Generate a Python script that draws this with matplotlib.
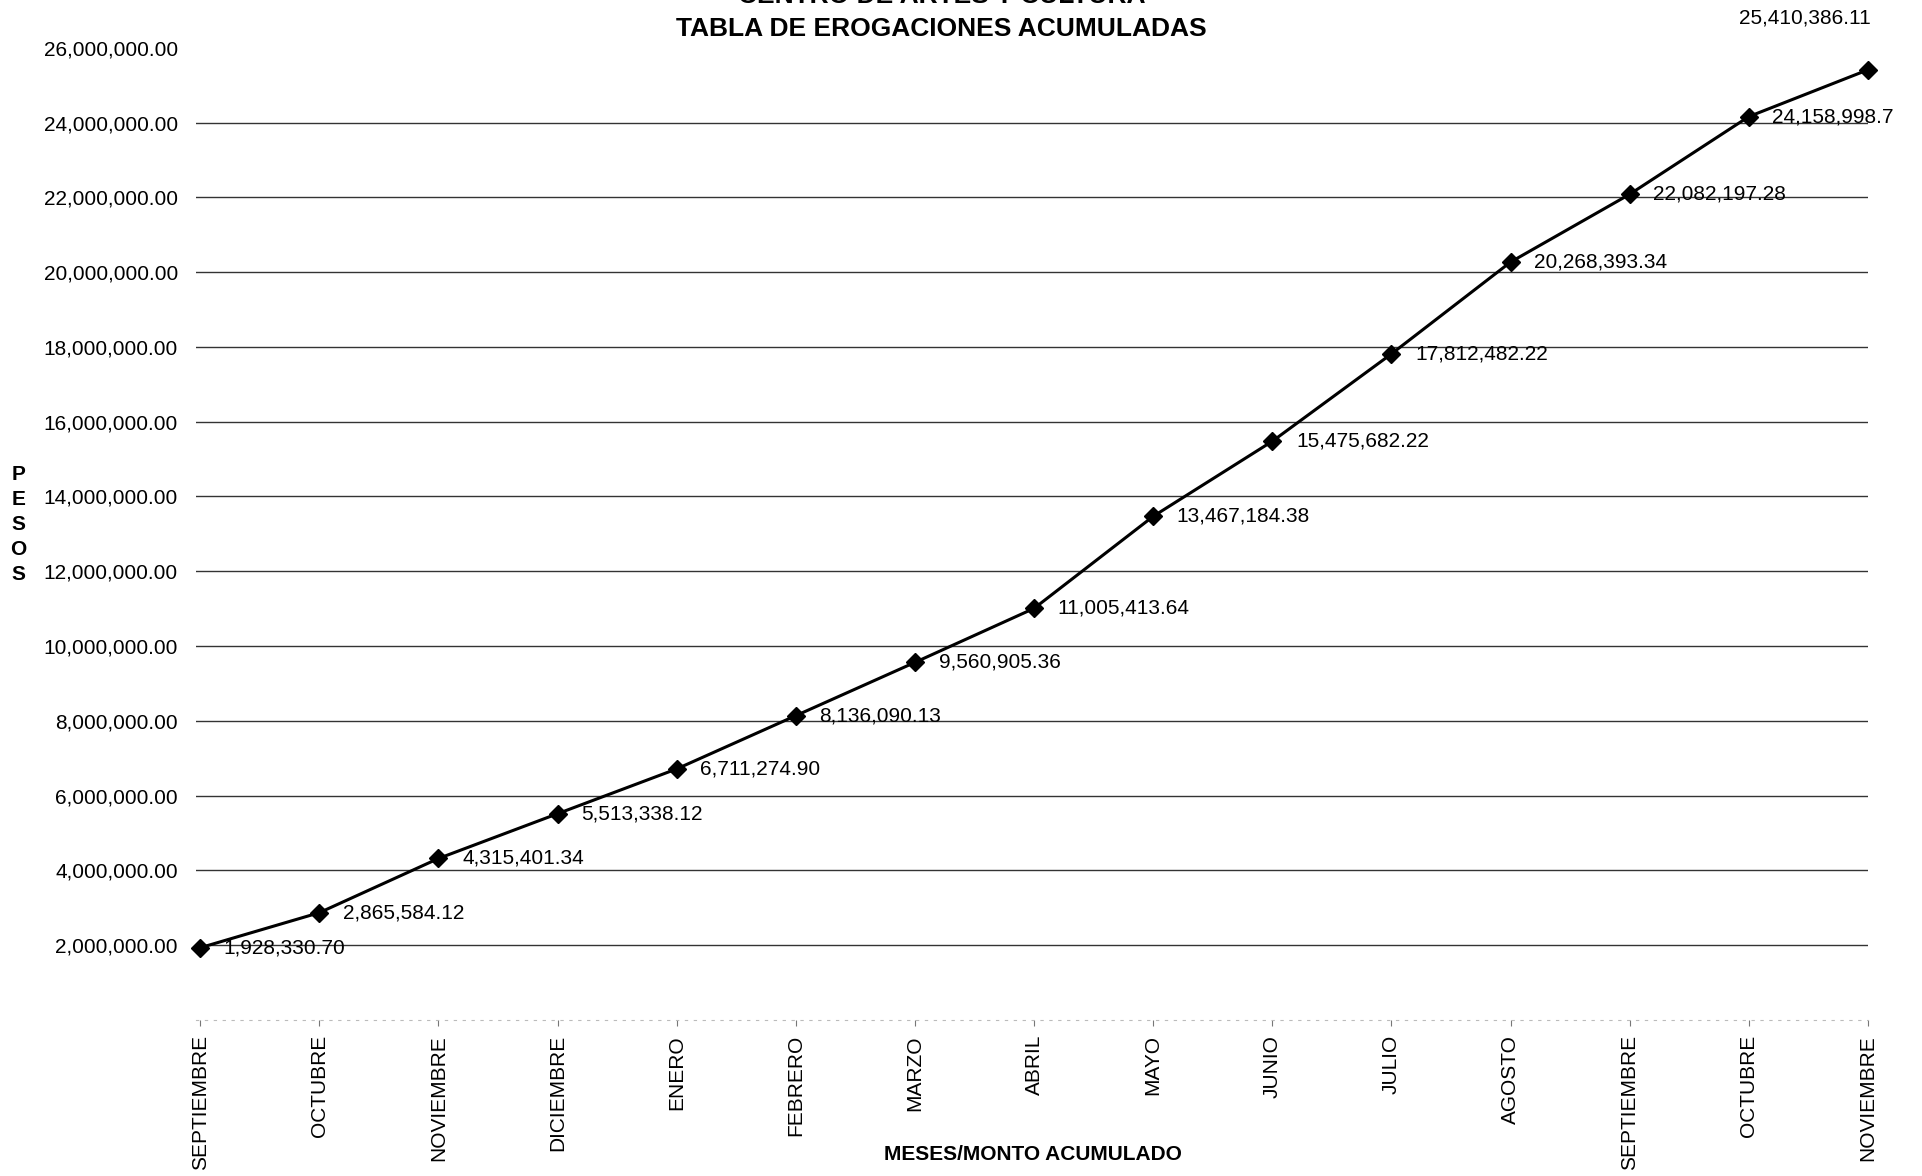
import numpy as np
import matplotlib.pyplot as plt

plt.rcParams['font.family'] = ['Liberation Sans', 'DejaVu Sans']

meses = ["SEPTIEMBRE", "OCTUBRE", "NOVIEMBRE", "DICIEMBRE", "ENERO", "FEBRERO",
         "MARZO", "ABRIL", "MAYO", "JUNIO", "JULIO", "AGOSTO", "SEPTIEMBRE",
         "OCTUBRE", "NOVIEMBRE"]
acumulado = [1928330.70, 2865584.12, 4315401.34, 5513338.12, 6711274.90,
             8136090.13, 9560905.36, 11005413.64, 13467184.38, 15475682.22,
             17812482.22, 20268393.34, 22082197.28, 24158998.73, 25410386.11]
etiquetas = ["1,928,330.70", "2,865,584.12", "4,315,401.34", "5,513,338.12",
             "6,711,274.90", "8,136,090.13", "9,560,905.36", "11,005,413.64",
             "13,467,184.38", "15,475,682.22", "17,812,482.22", "20,268,393.34",
             "22,082,197.28", "24,158,998.7", "25,410,386.11"]
yticks = [2000000, 4000000, 6000000, 8000000, 10000000, 12000000, 14000000,
          16000000, 18000000, 20000000, 22000000, 24000000, 26000000]

tickFont = {'size': 15}
labelFont = {'size': 15, 'weight': 'bold'}

fig = plt.figure(figsize=(19.22, 11.76), dpi=100)
ax = fig.add_axes([0.102, 0.1328, 0.8699, 0.8266])

x = np.arange(len(meses))
ax.plot(x, acumulado, color='black', lw=2.2, marker='D', ms=9, clip_on=False, zorder=3)

for i, (v, t) in enumerate(zip(acumulado, etiquetas)):
    if i == len(acumulado) - 1:
        ax.annotate(t, (i, v), xytext=(2, 37), textcoords='offset points',
                    ha='right', va='center', annotation_clip=False, **tickFont)
    else:
        ax.annotate(t, (i, v), xytext=(17, 0), textcoords='offset points',
                    ha='left', va='center', annotation_clip=False, **tickFont)

ax.set_xlim(-0.035, 14)
ax.set_ylim(0, 26000000)
ax.set_yticks(yticks)
ax.set_yticklabels(["{:,.2f}".format(v) for v in yticks], **tickFont)
ax.set_xticks(x)
ax.set_xticklabels(meses, rotation=90, **tickFont)
ax.tick_params(axis='y', length=0, pad=13)
ax.tick_params(axis='x', length=4, pad=7, color='#777777')

ax.grid(axis='y', color='#333333', lw=1)
ax.yaxis.get_gridlines()[-1].set_visible(False)
ax.set_axisbelow(True)

for s in ['top', 'right', 'left']:
    ax.spines[s].set_visible(False)
ax.spines['bottom'].set_color('#bbbbbb')
ax.spines['bottom'].set_linestyle((0, (2, 6)))

fig.text(0.49, 1.003, "CENTRO DE ARTES Y CULTURA", ha='center', va='center',
         size=19, weight='bold')
fig.text(0.49, 0.975, "TABLA DE EROGACIONES ACUMULADAS", ha='center', va='center',
         size=19, weight='bold')
fig.text(0.5375, 0.018, "MESES/MONTO ACUMULADO", ha='center', va='center', **labelFont)
fig.text(0.0095, 0.554, "P\nE\nS\nO\nS", ha='center', va='center',
         linespacing=1.4, **labelFont)

plt.savefig('out.png', dpi=100)
